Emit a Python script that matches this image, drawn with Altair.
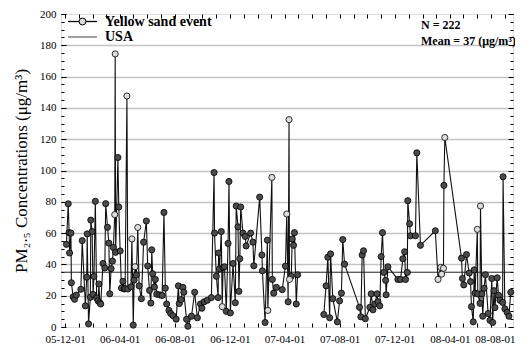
import altair as alt
import pandas as pd
import numpy as np

# ---------------- data ----------------
# days since 2005-12-01 of each PM2.5 sample
days = [3, 7, 9, 10, 13, 14, 18, 21, 25, 35, 38, 45, 48, 49, 52, 56, 57, 60, 62, 64,
        67, 70, 73, 75, 77, 79, 84, 88, 90, 94, 97, 99, 102, 105, 107, 110, 111, 112, 117, 119,
        122, 125, 128, 131, 133, 137, 139, 146, 148, 151, 153, 155, 158, 161, 164, 169, 174, 180, 183, 187,
        190, 192, 194, 198, 200, 203, 210, 215, 219, 222, 225, 230, 234, 239, 246, 251, 253, 257, 261, 263,
        269, 272, 280, 287, 293, 300, 303, 308, 315, 324, 330, 331, 335, 339, 340, 342, 346, 348, 350, 353,
        357, 361, 363, 366, 372, 377, 379, 383, 385, 387, 389, 394, 399, 401, 411, 416, 418, 431, 436, 437,
        443, 448, 449, 458, 459, 462, 468, 481, 488, 491, 494, 496, 497, 501, 503, 506, 508, 512, 515,
        573, 578, 582, 586, 588, 593, 603, 608, 612, 615, 619, 652, 655, 658, 661, 665, 675, 678, 682, 686,
        691, 693, 697, 700, 703, 706, 710, 711, 715, 737, 743, 748, 752, 754, 758, 759, 763, 765, 776, 779,
        787, 820, 826, 832, 834, 838, 839, 841, 878, 880, 883, 889, 895, 898, 900, 904, 906, 908, 913, 914,
        919, 920, 923, 925, 928, 931, 937, 941, 945, 947, 950, 952, 957, 960, 963, 969, 970, 974, 979, 983, 987]

pm25 = [52.8, 78.7, 60.3, 47.3, 60.0, 28.3, 19.2, 17.7, 20.4, 24.1,
        55.2, 13.5, 31.8, 59.5, 2.0, 19.0, 68.3, 61, 20.8, 32.3,
        80.3, 18.5, 16.7, 27.5, 15.5, 14.7, 40.6, 37.7, 78.8, 63.7,
        53.6, 21.2, 37.3, 42.1, 50.8, 71.8, 174.5, 47.7, 108.3, 76.7,
        48.6, 24.9, 29.2, 24.3, 24.5, 147.6, 24.3, 25.7, 56.3, 1.2,
        30.0, 38.5, 33.2, 63.6, 26.3, 18.1, 54.2, 67.7, 39.0, 23.4,
        15.3, 49.3, 34.0, 25.5, 30.4, 21.0, 20.5, 20.2, 73.2, 24.8,
        14.7, 10.6, 8.6, 7.2, 5.0, 26.3, 15.0, 17.5, 25.3, 22.2,
        4.9, 0.5, 6.9, 22.2, 5.9, 14.7, 12, 16.1, 17.1, 18.8,
        98.7, 60, 32.4, 18.8, 47.3, 37.1, 61, 13, 37.9, 38.5,
        10, 53.4, 93, 9, 40.6, 15.5, 77.3, 64, 22.8, 43.6,
        76.7, 60, 57.9, 51.8, 60, 54.2, 39.1, 83, 46, 35.9,
        2.9, 55.5, 10.6, 95.6, 30.4, 21.6, 25.3, 23.9, 38.9, 72.2,
        16.1, 132.5, 30.4, 32.4, 56.3, 52.2, 60.3, 14.7, 33.4,
        8, 26.3, 44.6, 5.9, 46.7, 18.1, 3.3, 16.7, 21.6, 55.9, 40.2,
        12.6, 6.5, 46, 48.7, 5.3, 12.6, 21.2, 11, 14.7, 21.2,
        16.1, 13.5, 45, 60.3, 34.9, 29.8, 20.6, 38.5, 30.4, 30.4,
        43.6, 48.1, 30.4, 34.9, 80.7, 66, 58.3, 58.3, 111.3, 52.2,
        61.5, 30.4, 38.1, 33.8, 37.5, 90.5, 121.1, 44, 31, 26.9,
        46.3, 34.5, 29, 13, 3.3, 36.5, 21.6, 62.4, 21.2, 15.1,
        77.3, 21.2, 6.9, 24.7, 33.4, 8.6, 4.3, 31, 2.9, 23.2,
        12.4, 31.4, 20.2, 17.1, 15.7, 96, 11.6, 9.4, 6.9, 22.2]

# sample days flagged as yellow sand events
yellow_sand_days = [110, 111, 137, 148, 155, 161, 348, 449, 458, 491, 496, 497,
                    826, 832, 834, 838, 841, 913, 920]

# the record is interrupted between these two sampling periods
second_period_start = 573

usa_standard = [35]
y_major_ticks = list(range(0, 201, 20))
y_minor_ticks = list(range(0, 201, 5))
x_label_dates = ["2005-12-01", "2006-04-01", "2006-08-01", "2006-12-01", "2007-04-01",
                 "2007-08-01", "2007-12-01", "2008-04-01"]
x_last_label_date = ["2008-08-01"]
x_domain_days = [-9, 992]

# ---------------- build table ----------------
DAY_MS = 86400000
base_ms = pd.Timestamp("2005-12-01", tz="UTC").value // 10**6

df = pd.DataFrame({"day": days, "pm": pm25})
df["t"] = base_ms + df["day"] * DAY_MS
df["ys"] = df["day"].isin(yellow_sand_days).astype(int)
df["seg"] = np.where(df["day"] >= second_period_start, 2, 1)


def to_ms(dates):
    return [int(pd.Timestamp(d, tz="UTC").value // 10**6) for d in dates]


x_label_ms = to_ms(x_label_dates)
x_last_ms = to_ms(x_last_label_date)
month_ms = [int(ts.value // 10**6) for ts in pd.date_range("2005-12-01", "2008-08-01", freq="MS", tz="UTC")]
x_dom = [int(base_ms + d * DAY_MS) for d in x_domain_days]

SERIF = "Liberation Serif"
xs = alt.Scale(type="utc", domain=x_dom, nice=False)
ys = alt.Scale(domain=[0, 200], nice=False, zero=False)


def X(axis):
    return alt.X("t:T", scale=xs, axis=axis)


def Y(axis):
    return alt.Y("pm:Q", scale=ys, axis=axis)


def tick_axis(orient, values, size, offset):
    return alt.Axis(orient=orient, values=values, labels=False, domain=False, grid=False,
                    ticks=True, tickSize=size, offset=offset, tickColor="black",
                    tickWidth=1, title=None)


def x_label_axis(values, shift):
    return alt.Axis(orient="bottom", values=values, format="%y-%m-%d", labelFont=SERIF,
                    labelFontSize=11, labelColor="black", ticks=False, domain=False, grid=False,
                    labelPadding=6, labelFlush=False, labelOffset=shift, title=None)


# grid lines
grid_layer = alt.Chart(df).mark_point(opacity=0).encode(
    x=X(None),
    y=Y(alt.Axis(orient="left", values=list(range(20, 181, 20)), labels=False, ticks=False,
                 domain=False, grid=True, gridColor="#c4c4c4", gridWidth=1.5, title=None)),
)

usa_layer = alt.Chart(pd.DataFrame({"pm": usa_standard})).mark_rule(color="#222222", strokeWidth=1).encode(
    y=Y(None)
)

line_layer = alt.Chart(df).mark_line(color="#111111", strokeWidth=1.1).encode(
    x=X(x_label_axis(x_label_ms, 0)),
    y=Y(alt.Axis(orient="left", values=y_major_ticks, labelFont=SERIF, labelFontSize=11,
                 labelColor="black", ticks=False, domain=False, grid=False, labelPadding=5,
                 title="PM₂.₅ Concentrations (μg/m³)", titleFont=SERIF, titleFontSize=17,
                 titleFontWeight="normal", titleColor="black", titlePadding=9)),
    detail="seg:N",
)

point_layer = alt.Chart(df).mark_circle(size=38, stroke="black", strokeWidth=0.8, opacity=1).encode(
    x=X(tick_axis("bottom", month_ms, 4, -4)),
    y=Y(tick_axis("left", y_major_ticks, 5, -5)),
    fill=alt.Fill("ys:N", scale=alt.Scale(domain=[0, 1], range=["#4b4b4b", "#dcdcdc"]), legend=None),
    order=alt.Order("ys:Q"),
)

tick_right_top = alt.Chart(df).mark_point(opacity=0).encode(
    x=X(tick_axis("top", month_ms, 4, -4)),
    y=Y(tick_axis("right", y_major_ticks, 5, -5)),
)
minor_left = alt.Chart(df).mark_point(opacity=0).encode(
    x=X(x_label_axis(x_last_ms, -10)), y=Y(tick_axis("left", y_minor_ticks, 3, -3)),
)
minor_right = alt.Chart(df).mark_point(opacity=0).encode(
    x=X(None), y=Y(tick_axis("right", y_minor_ticks, 3, -3)),
)

one = pd.DataFrame({"k": [0]})
leg_line1 = alt.Chart(one).mark_rule(color="black", strokeWidth=1.3).encode(
    x=alt.value(7), x2=alt.value(36), y=alt.value(7.5))
leg_dot = alt.Chart(one).mark_circle(size=48, fill="#dcdcdc", stroke="black", strokeWidth=1, opacity=1).encode(
    x=alt.value(21.5), y=alt.value(7.5))
leg_line2 = alt.Chart(one).mark_rule(color="#8a8a8a", strokeWidth=1.6).encode(
    x=alt.value(7), x2=alt.value(36), y=alt.value(23))


def label(txt, x, y, size):
    return alt.Chart(pd.DataFrame({"txt": [txt]})).mark_text(
        align="left", baseline="middle", font=SERIF, fontSize=size, fontWeight="bold", color="black"
    ).encode(x=alt.value(x), y=alt.value(y), text="txt:N")


chart = alt.layer(
    grid_layer, usa_layer, line_layer, point_layer, tick_right_top, minor_left, minor_right,
    leg_line1, leg_dot, leg_line2,
    label("Yellow sand event", 44, 7.5, 14), label("USA", 44, 23, 14),
    label("N = 222", 360, 10.5, 12), label("Mean = 37 (μg/m³)", 360, 26.5, 12),
).resolve_axis(x="independent", y="independent").properties(
    width=452, height=313,
    autosize=alt.AutoSizeParams(type="none"),
    padding={"left": 53, "top": 6, "right": 2, "bottom": 17},
).configure_view(stroke="black", strokeWidth=1).configure(background="white")

chart.save("out.html", embed_options={"renderer": "svg", "actions": False})
